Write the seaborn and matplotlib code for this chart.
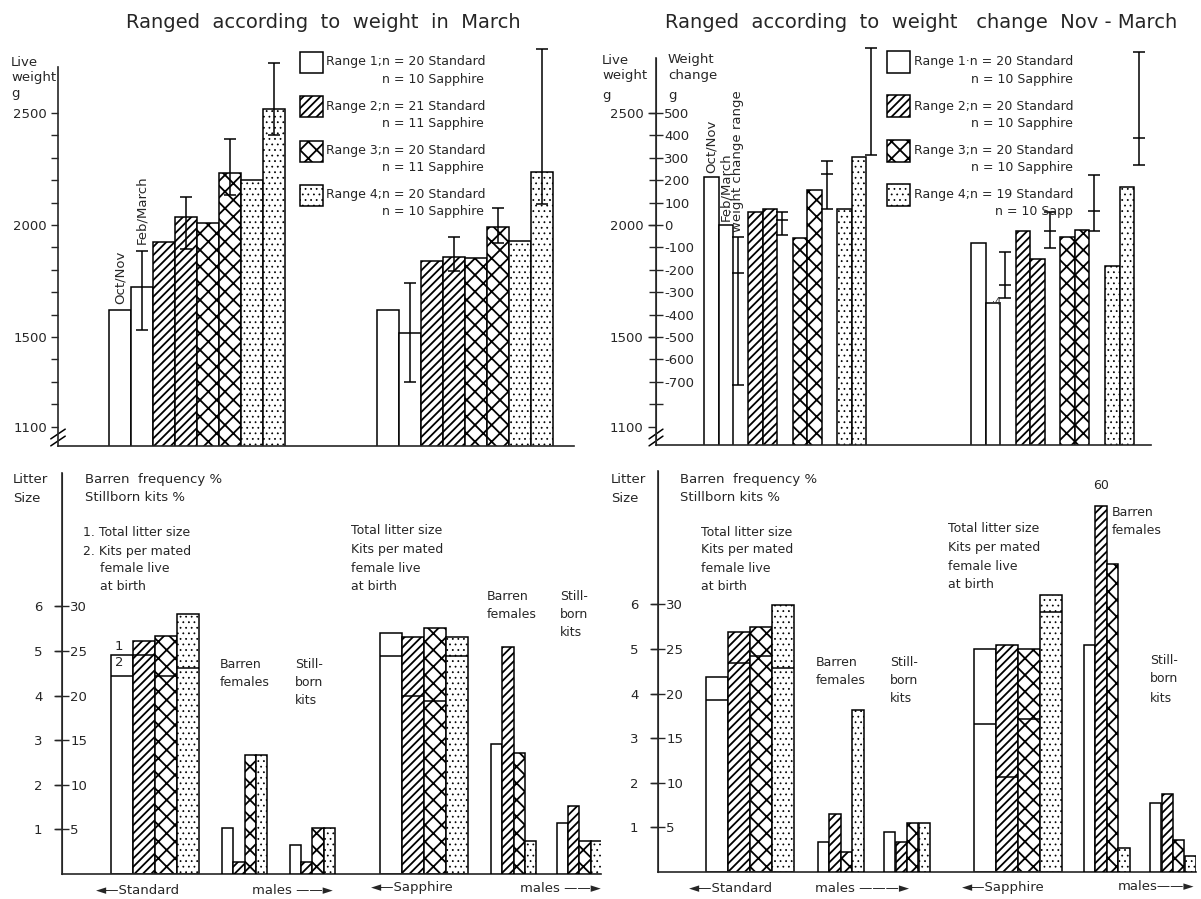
import numpy as np
import matplotlib
matplotlib.use("Agg")
import matplotlib.pyplot as plt
import seaborn as sns
from matplotlib.patches import Rectangle

sns.set_style("white")
plt.rcParams["font.family"] = ["DejaVu Sans"]
plt.rcParams["hatch.linewidth"] = 1.3

# ---------------- data ----------------
ranges = ["Range 1", "Range 2", "Range 3", "Range 4"]

# Top-left: live weight (g), ranged according to weight in March
tl_std_octnov = [1620, 1925, 2008, 2200]
tl_std_febmar = [1722, 2036, 2232, 2518]
tl_std_err_lo = [1531, 1893, 2134, 2402]
tl_std_err_hi = [1884, 2125, 2384, 2723]
tl_saph_octnov = [1620, 1839, 1853, 1929]
tl_saph_febmar = [1518, 1857, 1991, 2236]
tl_saph_err_lo = [1299, 1795, 1920, 2094]
tl_saph_err_hi = [1741, 1946, 2076, 2786]
tl_n_std = [20, 21, 20, 20]
tl_n_saph = [10, 11, 11, 10]

# Top-right: live weight (g) bars and weight change range (g)
tr_std_octnov = [2214, 2058, 1942, 2071]
tr_std_febmar = [2000, 2071, 2156, 2304]
tr_std_rng_lo = [-714, -45, 71, 312]
tr_std_rng_mid = [-214, 22, 228, np.nan]
tr_std_rng_hi = [-54, 58, 286, 790]
tr_saph_octnov = [1920, 1975, 1948, 1817]
tr_saph_febmar = [1650, 1848, 1978, 2170]
tr_saph_rng_lo = [-326, -103, -25, 268]
tr_saph_rng_mid = [-268, -25, 63, 388]
tr_saph_rng_hi = [-120, 58, 223, 772]
tr_n_std = [20, 20, 20, 19]
tr_n_saph = [10, 10, 10, 10]

# Bottom-left: litter size and percentages (ranged by March weight)
bl_std_total = [4.92, 5.22, 5.33, 5.82]
bl_std_live = [4.45, 4.92, 4.44, 4.63]
bl_std_barren = [5.2, 1.3, 13.3, 13.3]
bl_std_stillborn = [3.3, 1.4, 5.2, 5.2]
bl_saph_total = [5.40, 5.31, 5.51, 5.31]
bl_saph_live = [4.88, 3.98, 3.89, 4.88]
bl_saph_barren = [14.6, 25.5, 13.6, 3.7]
bl_saph_stillborn = [5.7, 7.6, 3.7, 3.7]

# Bottom-right: litter size and percentages (ranged by weight change)
br_std_total = [4.37, 5.37, 5.49, 5.98]
br_std_live = [3.85, 4.68, 4.85, 4.57]
br_std_barren = [3.4, 6.5, 2.2, 18.2]
br_std_stillborn = [4.5, 3.4, 5.5, 5.5]
br_saph_total = [5.01, 5.10, 5.01, 6.21]
br_saph_live = [3.31, 2.12, 3.42, 5.82]
br_saph_barren = [25.4, 60.0, 34.5, 2.7]
br_saph_stillborn = [7.7, 8.8, 3.6, 1.8]

# ---------------- style ----------------
HATCH = ["", "////", "xx", "..."]
HATCH_LW = {"": 1.3, "////": 1.3, "xx": 1.3, "...": 0.55}
LW = 1.1
FS = 9.5
W, H = 1201, 899

fig = plt.figure(figsize=(W / 100, H / 100), dpi=100)
fig.patch.set_facecolor("white")


def style_hatch(p, h):
    p.set_hatch(h)
    if hasattr(p, "set_hatch_linewidth"):
        p.set_hatch_linewidth(HATCH_LW[h])


def px_ax(l, r, t, b):
    ax = fig.add_axes([l / W, 1 - b / H, (r - l) / W, (b - t) / H])
    ax.set_facecolor("none")
    return ax


def T(x, y, s, ha="left", fs=FS, **kw):
    fig.text(x / W, 1 - y / H, s, ha=ha, va="center", fontsize=fs, **kw)


def TL(x, ys, lines, ha="left", fs=FS):
    for y, s in zip(ys, lines):
        T(x, y, s, ha=ha, fs=fs)


def sbars(ax, xs, hs, hatches):
    n0 = len(ax.patches)
    sns.barplot(x=np.asarray(xs, float), y=np.asarray(hs, float), native_scale=True,
                width=1.0, color="white", saturation=1, edgecolor="black",
                linewidth=LW, errorbar=None, ax=ax, orient="x")
    new = sorted(ax.patches[n0:], key=lambda p: p.get_x())
    for p, h in zip(new, hatches):
        style_hatch(p, h)
        p.set_facecolor("white")
        p.set_edgecolor("black")
    return new


def axis_break(ax, ypix_list, top_px, bot_px):
    for yp in ypix_list:
        yf = (bot_px - yp) / (bot_px - top_px)
        ax.plot([-0.014, 0.014], [yf - 0.012, yf + 0.012], color="black", lw=1.1,
                transform=ax.transAxes, clip_on=False)


def interleave(a, b):
    return np.column_stack([a, b]).ravel()


def legend_box(x, top, w, h, hatch):
    r = Rectangle((x / W, 1 - (top + h) / H), w / W, h / H, transform=fig.transFigure,
                  facecolor="white", edgecolor="black", lw=LW)
    style_hatch(r, hatch)
    fig.add_artist(r)


# ================= TOP LEFT =================
ax = px_ax(58, 574, 40, 446)
bw = 22
std_x = 109 + bw / 2 + bw * np.arange(8)
saph_x = 377 + bw / 2 + bw * np.arange(8)
h8 = [h for h in HATCH for _ in range(2)]
sbars(ax, np.r_[std_x, saph_x],
      np.r_[interleave(tl_std_octnov, tl_std_febmar), interleave(tl_saph_octnov, tl_saph_febmar)],
      h8 + h8)
for xs, feb, lo, hi in [(std_x[1::2], tl_std_febmar, tl_std_err_lo, tl_std_err_hi),
                        (saph_x[1::2], tl_saph_febmar, tl_saph_err_lo, tl_saph_err_hi)]:
    feb, lo, hi = map(np.asarray, (feb, lo, hi))
    ax.errorbar(xs, feb, yerr=[feb - lo, hi - feb], fmt="none", ecolor="black",
                elinewidth=LW, capsize=4, capthick=LW, zorder=5)
ax.text(std_x[0], tl_std_octnov[0] + 25, "Oct/Nov", rotation=90, ha="center", va="bottom", fontsize=FS)
ax.text(std_x[1], tl_std_err_hi[0] + 30, "Feb/March", rotation=90, ha="center", va="bottom", fontsize=FS)
ax.set_xlim(58, 574)
ax.set_ylim(1013, 2826)
ax.set_xlabel("")
ax.set_ylabel("")
ax.set_xticks([])
yt = np.arange(1100, 2600, 100)
ax.set_yticks(yt)
ax.set_yticklabels([str(v) if v in (1100, 1500, 2000, 2500) else "" for v in yt])
ax.tick_params(axis="y", direction="out", length=5, width=1, labelsize=FS, pad=3, left=True)
for s in ["top", "right"]:
    ax.spines[s].set_visible(False)
ax.spines["left"].set_bounds(1013, 2705)
ax.spines["left"].set_linewidth(1.2)
ax.spines["bottom"].set_linewidth(1.2)
axis_break(ax, [434, 441], 40, 446)
TL(11, [62, 78, 94], ["Live", "weight", "g"])
T(323, 22, "Ranged  according  to  weight  in  March", ha="center", fs=14)

# legend (top-left)
for i, (r, ns, nsa, h) in enumerate(zip(ranges, tl_n_std, tl_n_saph, HATCH)):
    top = 52 + 44.3 * i
    legend_box(300, top, 23, 21, h)
    T(326, top + 10, f"{r};n = {ns} Standard", fs=9)
    T(484, top + 27, f"n = {nsa} Sapphire", ha="right", fs=9)

# ================= TOP RIGHT =================
ax = px_ax(656, 1151, 40, 445)
ax2 = ax.twinx()
bw = 14.5
std_start = 704 + 44.4 * np.arange(4)
saph_start = 971 + 44.7 * np.arange(4)
bx_std = interleave(std_start + bw / 2, std_start + 1.5 * bw)
bx_saph = interleave(saph_start + bw / 2, saph_start + 1.5 * bw)
sbars(ax, np.r_[bx_std, bx_saph],
      np.r_[interleave(tr_std_octnov, tr_std_febmar), interleave(tr_saph_octnov, tr_saph_febmar)],
      h8 + h8)
ylo, yhi = 1018, 2826
ax.set_ylim(ylo, yhi)
ax2.set_ylim(ylo - 2000, yhi - 2000)
for starts, lo, mid, hi in [(std_start, tr_std_rng_lo, tr_std_rng_mid, tr_std_rng_hi),
                            (saph_start, tr_saph_rng_lo, tr_saph_rng_mid, tr_saph_rng_hi)]:
    lo, mid, hi = map(np.asarray, (lo, mid, hi))
    ex = starts + 34
    ax2.errorbar(ex, (lo + hi) / 2, yerr=(hi - lo) / 2, fmt="none", ecolor="black",
                 elinewidth=LW, capsize=4, capthick=LW)
    ax2.plot(ex, mid, ls="none", marker="_", ms=8, mew=LW, color="black")
ax.text(bx_std[0], tr_std_octnov[0] + 20, "Oct/Nov", rotation=90, ha="center", va="bottom", fontsize=FS)
ax.text(bx_std[1], tr_std_febmar[0] + 20, "Feb/March", rotation=90, ha="center", va="bottom", fontsize=FS)
ax2.text(std_start[0] + 34, tr_std_rng_hi[0] + 25, "weight change range", rotation=90,
         ha="center", va="bottom", fontsize=FS)
ax2.text(saph_start[0] + 26, -345, "·4", ha="center", va="center", fontsize=7)
ax.set_xlim(656, 1151)
ax.set_xticks([])
ax.set_xlabel("")
ax.set_ylabel("")
ax.set_yticks([1100, 1500, 2000, 2500])
ax.set_yticklabels(["1100", "1500", "2000", "2500"])
ax.tick_params(axis="y", direction="out", length=6, width=1, labelsize=FS, pad=3, left=True)
ct = np.arange(-800, 600, 100)
ax2.set_yticks(ct)
ax2.set_yticklabels([("" if v == -800 else str(v)) for v in ct])
ax2.spines["right"].set_position(("axes", 0))
ax2.tick_params(axis="y", direction="inout", length=10, width=1, labelsize=FS, pad=1, right=True)
for s in ["top", "left", "bottom"]:
    ax2.spines[s].set_visible(False)
ax2.spines["right"].set_bounds(ylo - 2000, 745)
for s in ["top", "right"]:
    ax.spines[s].set_visible(False)
ax.spines["left"].set_bounds(ylo, 2745)
ax.spines["left"].set_linewidth(1.2)
ax.spines["bottom"].set_linewidth(1.2)
axis_break(ax, [434, 441], 40, 445)
TL(602, [61, 76, 96], ["Live", "weight", "g"])
TL(668, [60, 75, 96], ["Weight", "change", "g"])
T(921, 23, "Ranged  according  to  weight   change  Nov - March", ha="center", fs=14)

for i, (r, ns, nsa, h) in enumerate(zip(ranges, tr_n_std, tr_n_saph, HATCH)):
    top = 51 + 44.3 * i
    legend_box(887, top, 23, 22, h)
    sep = "·" if i == 0 else ";"
    T(914, top + 11, f"{r}{sep}n = {ns} Standard", fs=9)
    T(1073, top + 28, f"n = {nsa} Sapphire" if i < 3 else f"n = {nsa} Sapp",
      ha="right", fs=9)


# ================= BOTTOM =================
def bottom_panel(l, r, t, b, litter_std_l, bar_std_l, still_std_l, litter_saph_l, bar_saph_l,
                 still_saph_l, std_total, std_live, std_bar, std_still, saph_total, saph_live,
                 saph_bar, saph_still, bsp, ssp, cap=None):
    ax = px_ax(l, r, t, b)
    ax2 = ax.twinx()
    top_val = (b - t) / 44.6
    lw_ = 22
    lx_std = litter_std_l + lw_ / 2 + lw_ * np.arange(4)
    lx_saph = litter_saph_l + lw_ / 2 + lw_ * np.arange(4)
    sbars(ax, np.r_[lx_std, lx_saph], np.r_[std_total, saph_total], HATCH + HATCH)
    for xs, live in [(lx_std, std_live), (lx_saph, saph_live)]:
        ax.hlines(live, xs - lw_ / 2, xs + lw_ / 2, color="black", lw=LW, zorder=4)
    bx = np.r_[bar_std_l + bsp / 2 + bsp * np.arange(4), still_std_l + ssp / 2 + ssp * np.arange(4),
               bar_saph_l + bsp / 2 + bsp * np.arange(4), still_saph_l + ssp / 2 + ssp * np.arange(4)]
    pv = np.r_[std_bar, std_still, saph_bar, saph_still]
    if cap is not None:
        pv = np.minimum(pv, cap)
    sbars(ax2, bx, pv, HATCH * 4)
    ax.set_ylim(0, top_val)
    ax2.set_ylim(0, top_val * 5)
    ax.set_xlim(l, r)
    for a in (ax, ax2):
        a.set_xlabel("")
        a.set_ylabel("")
    ax.set_xticks([])
    ax.set_yticks(range(1, 7))
    ax.set_yticklabels([str(v) for v in range(1, 7)])
    ax.tick_params(axis="y", direction="out", length=6, width=1, labelsize=FS, pad=8, left=True)
    ax2.set_yticks(range(5, 35, 5))
    ax2.set_yticklabels([str(v) for v in range(5, 35, 5)])
    ax2.spines["right"].set_position(("axes", 0))
    ax2.tick_params(axis="y", direction="inout", length=10, width=1, labelsize=FS, pad=1, right=True)
    for s in ["top", "left", "bottom"]:
        ax2.spines[s].set_visible(False)
    for s in ["top", "right"]:
        ax.spines[s].set_visible(False)
    ax.spines["left"].set_bounds(0, 9.0)
    ax2.spines["right"].set_bounds(0, 45)
    ax.spines["left"].set_linewidth(1.2)
    ax.spines["bottom"].set_linewidth(1.2)
    return ax, ax2, lx_std, bx


# bottom-left
axb, axb2, lxs, bxs = bottom_panel(62, 601, 465, 874, 111, 222, 290, 380, 491, 557,
                                   bl_std_total, bl_std_live, bl_std_barren, bl_std_stillborn,
                                   bl_saph_total, bl_saph_live, bl_saph_barren, bl_saph_stillborn,
                                   11.3, 11.2)
axb.text(lxs[0] - 7, bl_std_total[0] + 0.03, "1", ha="left", va="bottom", fontsize=FS)
axb.text(lxs[0] - 7, bl_std_total[0] - 0.04, "2", ha="left", va="top", fontsize=FS)
TL(13, [479, 498], ["Litter", "Size"])
TL(85, [479, 497], ["Barren  frequency %", "Stillborn kits %"])
TL(83, [532, 551], ["1. Total litter size", "2. Kits per mated"], fs=9)
TL(100, [569, 587], ["female live", "at birth"], fs=9)
TL(220, [665, 683], ["Barren", "females"], fs=9)
TL(295, [665, 683, 700], ["Still-", "born", "kits"], fs=9)
TL(351, [530, 549, 568, 587], ["Total litter size", "Kits per mated", "female live", "at birth"], fs=9)
TL(487, [596, 614], ["Barren", "females"], fs=9)
TL(560, [596, 614, 632], ["Still-", "born", "kits"], fs=9)
T(96, 890, "◄—Standard", fs=9.5)
T(252, 890, "males ——►", fs=9.5)
T(371, 888, "◄—Sapphire", fs=9.5)
T(520, 888, "males ——►", fs=9.5)

# bottom-right
BR_CAP = 41
axc, axc2, lxs2, bxs2 = bottom_panel(658, 1196, 465, 872, 706, 818, 884, 974, 1084, 1150,
                                     br_std_total, br_std_live, br_std_barren, br_std_stillborn,
                                     br_saph_total, br_saph_live, br_saph_barren, br_saph_stillborn,
                                     11.4, 11.5, cap=BR_CAP)
i60 = int(np.argmax(br_saph_barren))
axc2.text(bxs2[8 + i60], BR_CAP + 1.6, f"{br_saph_barren[i60]:.0f}", ha="center", va="bottom", fontsize=9)
TL(611, [479, 498], ["Litter", "Size"])
TL(680, [479, 497], ["Barren  frequency %", "Stillborn kits %"])
TL(701, [532, 550, 569, 587], ["Total litter size", "Kits per mated", "female live", "at birth"], fs=9)
TL(816, [663, 681], ["Barren", "females"], fs=9)
TL(890, [663, 681, 699], ["Still-", "born", "kits"], fs=9)
TL(948, [529, 548, 567, 585], ["Total litter size", "Kits per mated", "female live", "at birth"], fs=9)
TL(1112, [512, 530], ["Barren", "females"], fs=9)
TL(1150, [661, 679, 698], ["Still-", "born", "kits"], fs=9)
T(689, 889, "◄—Standard", fs=9.5)
T(815, 889, "males ———►", fs=9.5)
T(962, 887, "◄—Sapphire", fs=9.5)
T(1118, 887, "males——►", fs=9.5)

fig.savefig("out.png", dpi=100, facecolor="white")
